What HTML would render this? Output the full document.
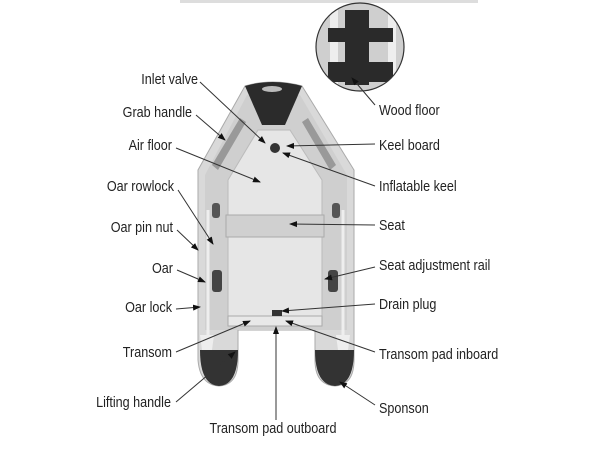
<!DOCTYPE html>
<html><head><style>
body{margin:0;width:600px;height:449px;background:#fff;overflow:hidden;}
svg{display:block}
text{font-family:"Liberation Sans",sans-serif;font-size:15px;fill:#222;}
</style></head><body>
<svg width="600" height="449" viewBox="0 0 600 449">
<defs>
<marker id="a" markerWidth="8" markerHeight="8" refX="7" refY="4" orient="auto" markerUnits="userSpaceOnUse">
<path d="M0,1 L8,4 L0,7 Z" fill="#111"/></marker>
<clipPath id="c"><circle cx="360" cy="47" r="44"/></clipPath>
</defs>
<rect x="180" y="0" width="298" height="3" fill="#ddd"/>
<g clip-path="url(#c)">
<rect x="310" y="0" width="100" height="100" fill="#cfcfcf"/>
<rect x="330" y="5" width="8" height="90" fill="#eee"/>
<rect x="388" y="5" width="8" height="90" fill="#eee"/>
<rect x="345" y="10" width="24" height="75" fill="#2a2a2a"/>
<rect x="328" y="28" width="65" height="14" fill="#2a2a2a"/>
<rect x="328" y="62" width="65" height="20" fill="#2a2a2a"/>
</g>
<circle cx="360" cy="47" r="44" fill="none" stroke="#333" stroke-width="1.2"/>
<path d="M198,170 L245,86 Q272,78 302,86 L354,170 L354,360 Q354,385 335,386 Q315,385 315,360 L315,330 L238,330 L238,360 Q238,385 219,386 Q200,385 198,360 Z" fill="#d9d9d9" stroke="#aaa"/>
<path d="M205,175 L247,95 L300,95 L347,175 L347,330 L205,330 Z" fill="#cfcfcf"/>
<path d="M228,180 L258,130 L290,130 L322,180 L322,318 L228,318 Z" fill="#e6e6e6" stroke="#bbb"/>
<path d="M245,86 Q272,78 302,86 L285,125 L262,125 Z" fill="#2b2b2b"/>
<ellipse cx="272" cy="89" rx="10" ry="3" fill="#bbb"/>
<path d="M212,165 L240,118 L246,122 L218,170 Z" fill="#999"/>
<path d="M336,165 L308,118 L302,122 L330,170 Z" fill="#999"/>
<path d="M200,350 Q200,385 219,386 Q238,385 238,350 Z" fill="#333"/>
<path d="M315,350 Q315,385 335,386 Q354,385 354,350 Z" fill="#333"/>
<rect x="228" y="316" width="94" height="10" fill="#e8e8e8" stroke="#aaa"/>
<rect x="226" y="215" width="98" height="22" fill="#d0d0d0" stroke="#aaa"/>
<circle cx="275" cy="148" r="5" fill="#333"/>
<rect x="212" y="270" width="10" height="22" rx="3" fill="#444"/>
<rect x="328" y="270" width="10" height="22" rx="3" fill="#444"/>
<rect x="212" y="203" width="8" height="15" rx="3" fill="#555"/>
<rect x="332" y="203" width="8" height="15" rx="3" fill="#555"/>
<line x1="208" y1="210" x2="208" y2="340" stroke="#eee" stroke-width="3"/>
<line x1="343" y1="210" x2="343" y2="340" stroke="#eee" stroke-width="3"/>
<path d="M200,335 L214,335 L212,350 L202,350 Z" fill="#eee"/>
<path d="M336,335 L350,335 L348,350 L338,350 Z" fill="#eee"/>
<rect x="272" y="310" width="10" height="6" fill="#333"/>
<g stroke="#333" stroke-width="1" fill="none" marker-end="url(#a)">
<line x1="200" y1="82" x2="265" y2="143"/>
<line x1="196" y1="115" x2="225" y2="140"/>
<line x1="176" y1="148" x2="260" y2="182"/>
<line x1="178" y1="190" x2="213" y2="244"/>
<line x1="177" y1="230" x2="198" y2="250"/>
<line x1="177" y1="270" x2="205" y2="282"/>
<line x1="176" y1="309" x2="200" y2="307"/>
<line x1="176" y1="352" x2="250" y2="321"/>
<line x1="176" y1="402" x2="235" y2="352"/>
<line x1="375" y1="105" x2="352" y2="78"/>
<line x1="375" y1="144" x2="287" y2="146"/>
<line x1="375" y1="186" x2="283" y2="153"/>
<line x1="375" y1="225" x2="290" y2="224"/>
<line x1="375" y1="267" x2="325" y2="279"/>
<line x1="375" y1="304" x2="282" y2="311"/>
<line x1="375" y1="352" x2="286" y2="321"/>
<line x1="375" y1="405" x2="340" y2="382"/>
<line x1="276" y1="420" x2="276" y2="327"/>
</g>
<g text-anchor="end">
<text transform="translate(198 84) scale(0.84 1)">Inlet valve</text>
<text transform="translate(192 117) scale(0.84 1)">Grab handle</text>
<text transform="translate(172 150) scale(0.84 1)">Air floor</text>
<text transform="translate(174 191) scale(0.84 1)">Oar rowlock</text>
<text transform="translate(173 232) scale(0.84 1)">Oar pin nut</text>
<text transform="translate(173 273) scale(0.84 1)">Oar</text>
<text transform="translate(172 312) scale(0.84 1)">Oar lock</text>
<text transform="translate(172 357) scale(0.84 1)">Transom</text>
<text transform="translate(171 407) scale(0.84 1)">Lifting handle</text>
</g>
<text transform="translate(379 115) scale(0.84 1)">Wood floor</text>
<text transform="translate(379 150) scale(0.84 1)">Keel board</text>
<text transform="translate(379 191) scale(0.84 1)">Inflatable keel</text>
<text transform="translate(379 230) scale(0.84 1)">Seat</text>
<text transform="translate(379 270) scale(0.84 1)">Seat adjustment rail</text>
<text transform="translate(379 309) scale(0.84 1)">Drain plug</text>
<text transform="translate(379 359) scale(0.84 1)">Transom pad inboard</text>
<text transform="translate(379 413) scale(0.84 1)">Sponson</text>
<text transform="translate(273 433) scale(0.84 1)" text-anchor="middle">Transom pad outboard</text>
</svg>
</body></html>
